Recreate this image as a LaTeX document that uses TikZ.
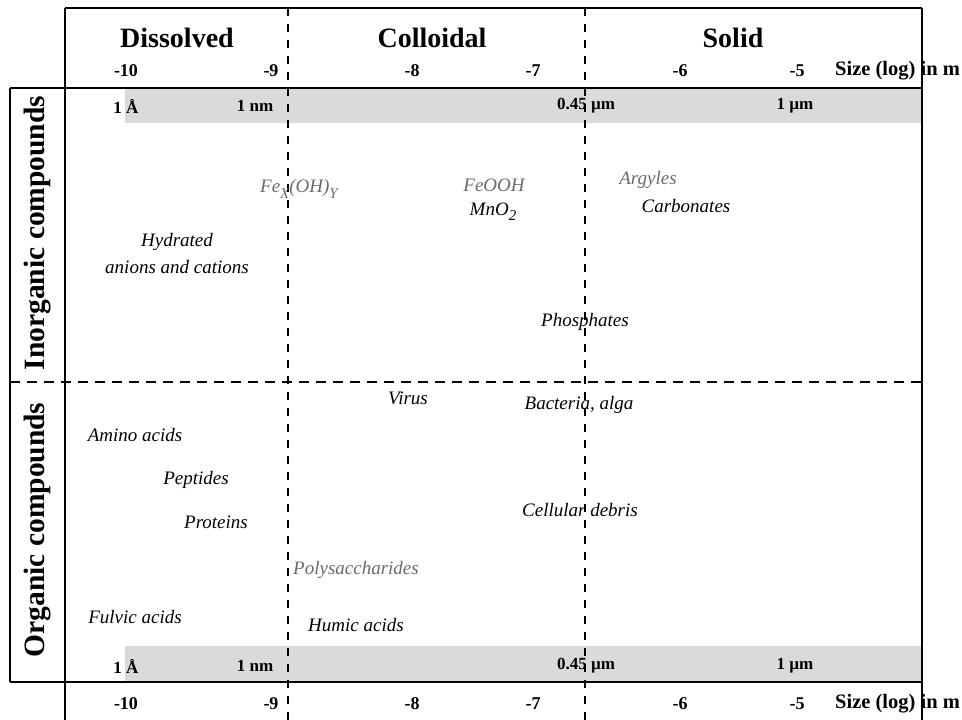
\documentclass[tikz,border=0pt]{standalone}
\usepackage{fontspec}
\setmainfont{Liberation Serif}
\definecolor{bandgray}{HTML}{D9DADC}
\definecolor{lightlbl}{HTML}{6A6A6A}
\newcommand{\lowsub}[1]{\raisebox{-0.28em}{\fontsize{15}{15}\selectfont #1}}
\tikzset{
  frame/.style={line width=1.3pt, black},
  vdivider/.style={line width=1.2pt, black, dash pattern=on 8pt off 8pt},
  hdivider/.style={line width=1.2pt, black, dash pattern=on 10pt off 7pt},
  head/.style={font=\fontsize{28}{30}\selectfont\bfseries, anchor=center, inner sep=0pt},
  tick/.style={font=\fontsize{18}{20}\selectfont\bfseries, anchor=center, inner sep=0pt},
  axislbl/.style={font=\fontsize{20.5}{22}\selectfont\bfseries, anchor=west, inner sep=0pt},
  bandlbl/.style={font=\fontsize{17}{19}\selectfont\bfseries, anchor=center, inner sep=0pt},
  rowlbl/.style={font=\fontsize{29.5}{32}\selectfont\bfseries, rotate=90, anchor=center, inner sep=0pt},
  item/.style={font=\fontsize{19}{27}\selectfont\itshape, anchor=center, inner sep=0pt, align=center},
  itemgray/.style={item, text=lightlbl},
}
\begin{document}
\begin{tikzpicture}[x=1pt,y=-1pt]
\useasboundingbox (0,0) rectangle (962,720);
% grey bands
\fill[bandgray] (125,88) rectangle (922,123);
\fill[bandgray] (125,646) rectangle (922,682);
% frame
\draw[frame] (65,8) -- (922,8);
\draw[frame] (65,8) -- (65,720);
\draw[frame] (922,8) -- (922,720);
\draw[frame] (10,88) -- (922,88);
\draw[frame] (10,682) -- (922,682);
\draw[frame] (10,88) -- (10,682);
% dividers
\draw[vdivider] (288,8) -- (288,720);
\draw[vdivider] (585,8) -- (585,720);
\draw[hdivider] (10,382) -- (922,382);
% headers
\node[head] (hdis) at (177,38) {Dissolved};
\node[head] (hcol) at (432,38) {Colloidal};
\node[head] (hsol) at (733,38) {Solid};
% ticks top
\node[tick] (t10) at (126,71) {-10};
\node[tick] (t9) at (271,71) {-9};
\node[tick] (t8) at (412,71) {-8};
\node[tick] (t7) at (533,71) {-7};
\node[tick] (t6) at (680,71) {-6};
\node[tick] (t5) at (797,71) {-5};
\node[axislbl] (ax1) at (835,71) {Size (log) in m};
% ticks bottom
\node[tick] (b10) at (126,704) {-10};
\node[tick] (b9) at (271,704) {-9};
\node[tick] (b8) at (412,704) {-8};
\node[tick] (b7) at (533,704) {-7};
\node[tick] (b6) at (680,704) {-6};
\node[tick] (b5) at (797,704) {-5};
\node[axislbl] (ax2) at (835,704) {Size (log) in m};
% band labels top
\node[bandlbl] (ua) at (126,106) {1 Å};
\node[bandlbl] (unm) at (255,106) {1 nm};
\node[bandlbl] (u045) at (586,106) {0.45 µm};
\node[bandlbl] (u1) at (795,106) {1 µm};
% band labels bottom
\node[bandlbl] (la) at (126,666) {1 Å};
\node[bandlbl] (lnm) at (255,666) {1 nm};
\node[bandlbl] (l045) at (586,666) {0.45 µm};
\node[bandlbl] (l1) at (795,666) {1 µm};
% row labels
\node[rowlbl] (rin) at (38,233) {Inorganic compounds};
\node[rowlbl] (ror) at (38,530) {Organic compounds};
% inorganic items
\node[itemgray] (feoh) at (299,189) {Fe\lowsub{X}(OH)\lowsub{Y}};
\node[itemgray] (feooh) at (494,185) {FeOOH};
\node[item] (mno) at (493,212) {MnO\lowsub{2}};
\node[itemgray] (arg) at (648,180) {Argyles};
\node[item] (carb) at (686,206) {Carbonates};
\node[item] (hyd) at (177,254) {Hydrated\\anions and cations};
\node[item] (phos) at (585,322) {Phosphates};
% organic items
\node[item] (vir) at (408,398) {Virus};
\node[item] (bact) at (579,405) {Bacteria, alga};
\node[item] (amino) at (135,435) {Amino acids};
\node[item] (pept) at (196,480) {Peptides};
\node[item] (prot) at (216,522) {Proteins};
\node[item] (cell) at (580,510) {Cellular debris};
\node[itemgray] (poly) at (356,570) {Polysaccharides};
\node[item] (fulv) at (135,617) {Fulvic acids};
\node[item] (humic) at (356,625) {Humic acids};
\end{tikzpicture}
\end{document}
